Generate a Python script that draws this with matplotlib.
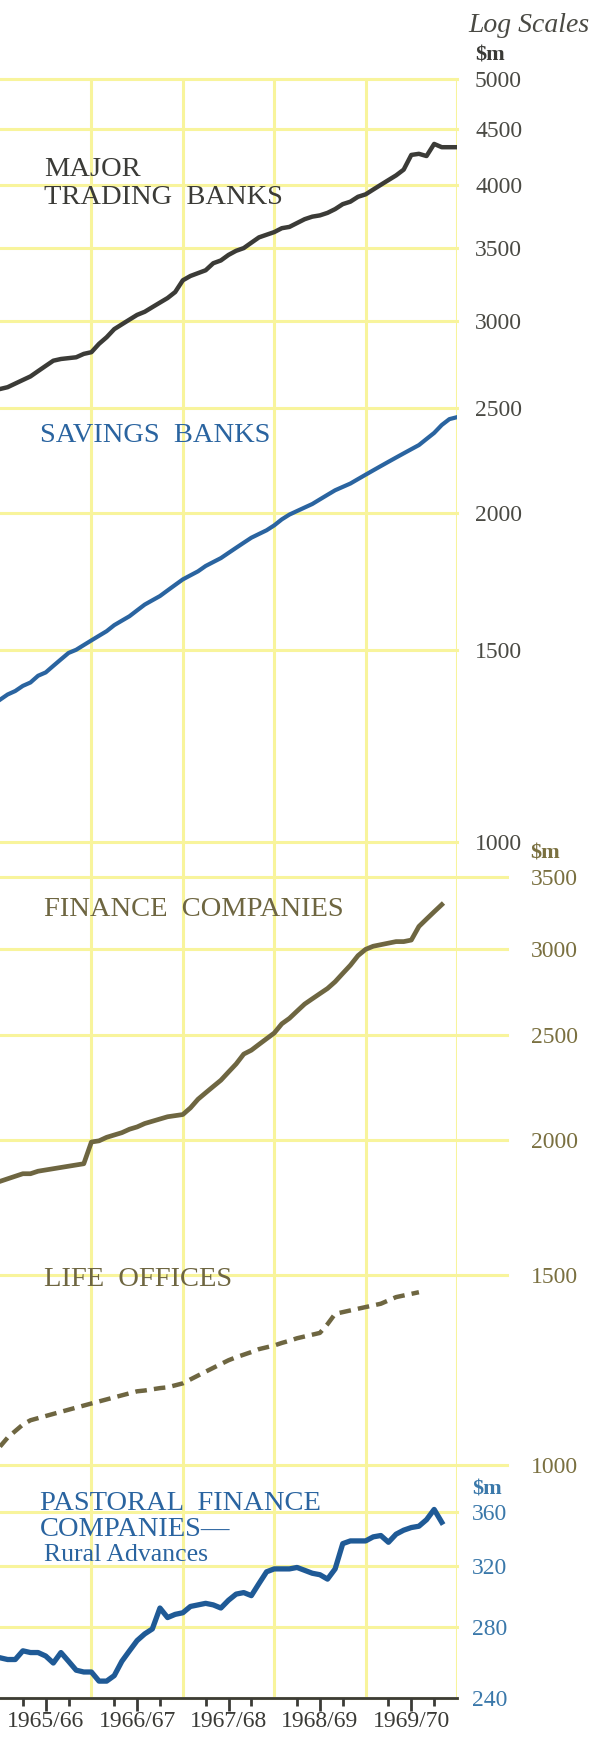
import matplotlib
matplotlib.use('Agg')
import matplotlib.pyplot as plt
import numpy as np

# monthly figures, July 1965 = month 0
trading = [2600, 2610, 2630, 2650, 2670, 2700, 2730, 2760, 2770, 2775,
           2780, 2800, 2810, 2860, 2900, 2950, 2980, 3010, 3040, 3060,
           3090, 3120, 3150, 3190, 3270, 3300, 3320, 3340, 3390, 3410,
           3450, 3480, 3500, 3540, 3580, 3600, 3620, 3650, 3660, 3690,
           3720, 3740, 3750, 3770, 3800, 3840, 3860, 3900, 3920, 3960,
           4000, 4040, 4080, 4130, 4260, 4270, 4250, 4360, 4330, 4330,
           4330]
savings = [1350, 1365, 1375, 1390, 1400, 1420, 1430, 1450, 1470, 1490,
           1500, 1515, 1530, 1545, 1560, 1580, 1595, 1610, 1630, 1650,
           1665, 1680, 1700, 1720, 1740, 1755, 1770, 1790, 1805, 1820,
           1840, 1860, 1880, 1900, 1915, 1930, 1950, 1975, 1995, 2010,
           2025, 2040, 2060, 2080, 2100, 2115, 2130, 2150, 2170, 2190,
           2210, 2230, 2250, 2270, 2290, 2310, 2340, 2370, 2410, 2440,
           2450]
finance = [1830, 1840, 1850, 1860, 1860, 1870, 1875, 1880, 1885, 1890,
           1895, 1900, 1990, 1995, 2010, 2020, 2030, 2045, 2055, 2070,
           2080, 2090, 2100, 2105, 2110, 2140, 2180, 2210, 2240, 2270,
           2310, 2350, 2400, 2420, 2450, 2480, 2510, 2560, 2590, 2630,
           2670, 2700, 2730, 2760, 2800, 2850, 2900, 2960, 3000, 3020,
           3030, 3040, 3050, 3050, 3060, 3150, 3200, 3250, 3300]
life = [1040, 1060, 1075, 1090, 1100, 1105, 1110, 1115, 1120, 1125,
        1130, 1135, 1140, 1145, 1150, 1155, 1160, 1165, 1170, 1172,
        1175, 1178, 1180, 1185, 1190, 1200, 1210, 1220, 1230, 1240,
        1250, 1258, 1265, 1272, 1280, 1285, 1290, 1297, 1303, 1310,
        1315, 1320, 1325, 1350, 1380, 1385, 1390, 1395, 1400, 1405,
        1410, 1420, 1430, 1435, 1440, 1445]
pastoral = [262, 261, 261, 266, 265, 265, 263, 259, 265, 260,
            255, 254, 254, 249, 249, 252, 260, 266, 272, 276,
            279, 292, 286, 288, 289, 293, 294, 295, 294, 292,
            297, 301, 302, 300, 308, 316, 318, 318, 318, 319,
            317, 315, 314, 311, 318, 336, 338, 338, 338, 341,
            342, 337, 343, 346, 348, 349, 354, 362, 352]

years = ['1965/66', '1966/67', '1967/68', '1968/69', '1969/70']
ticks1 = [1000, 1500, 2000, 2500, 3000, 3500, 4000, 4500, 5000]
ticks2 = [1000, 1500, 2000, 2500, 3000, 3500]
ticks3 = [240, 280, 320, 360]

W, H = 600, 1742
GRID = '#f8f49c'
DARK = '#3b3b37'
BLUE = '#2a64a0'
OLIVE = '#6e6641'

plt.rcParams['font.family'] = ['Liberation Serif', 'DejaVu Serif']

fig = plt.figure(figsize=(W / 100, H / 100), dpi=100)


def px_axes(x0, y0, x1, y1):
    ax = fig.add_axes([x0 / W, 1 - y1 / H, (x1 - x0) / W, (y1 - y0) / H])
    ax.patch.set_alpha(0)
    for s in ax.spines.values():
        s.set_visible(False)
    ax.set_xlim(0, 60)
    return ax


# background with the vertical year lines
bg = px_axes(0, 79, 457, 1698)
bg.set_ylim(0, 1)
for m in [12, 24, 36, 48, 60]:
    bg.axvline(m, color=GRID, lw=2.2, zorder=0)
bg.set_xticks([])
bg.set_yticks([])


def panel(y0, y1, lo, hi, ticks, color, pad, extend=1.0):
    ax = px_axes(0, y0, 457, y1)
    ax.set_yscale('log')
    ax.set_ylim(lo, hi)
    for t in ticks:
        ax.axhline(t, xmax=extend, color=GRID, lw=2.2, zorder=0, clip_on=False)
    ax.yaxis.set_major_locator(matplotlib.ticker.FixedLocator(ticks))
    ax.yaxis.set_minor_locator(matplotlib.ticker.NullLocator())
    ax.set_yticklabels([str(t) for t in ticks])
    ax.yaxis.tick_right()
    ax.tick_params(axis='y', length=0, pad=pad, labelsize=17, labelcolor=color)
    ax.set_xticks([])
    return ax


ax1 = panel(79, 842, 1000, 5000, ticks1, '#4a4a44', 13)
ax2 = panel(877, 1465, 1000, 3500, ticks2, '#7a7040', 53, extend=507 / 457)
ax3 = panel(1480, 1698, 240, 386, ticks3, '#3a78aa', 11)

ax1.plot(np.arange(len(trading)), trading, color=DARK, lw=3.2, solid_joinstyle='round')
ax1.plot(np.arange(len(savings)), savings, color=BLUE, lw=3.0, solid_joinstyle='round')
ax2.plot(np.arange(len(finance)), finance, color=OLIVE, lw=3.4, solid_joinstyle='round')
ax2.plot(np.arange(len(life)), life, color=OLIVE, lw=3.2, dashes=(2.6, 1.6))
ax3.plot(np.arange(len(pastoral)), pastoral, color='#1f5a96', lw=3.8, solid_joinstyle='round')

# bottom axis with quarterly ticks
ax3.spines['bottom'].set_visible(True)
ax3.spines['bottom'].set_color(DARK)
ax3.spines['bottom'].set_linewidth(2)
ax3.set_xticks([6, 18, 30, 42, 54])
ax3.set_xticks([m for m in range(3, 60, 3) if m % 12 != 0 and m % 12 != 6], minor=True)
ax3.tick_params(axis='x', which='major', length=9, width=2, color=DARK, labelbottom=False)
ax3.tick_params(axis='x', which='minor', length=6, width=2, color=DARK)
for i, y in enumerate(years):
    ax3.text(i * 12 + 6, -0.06, y, transform=ax3.get_xaxis_transform(),
             ha='center', va='top', fontsize=17, color='#3a3a36')

# text labels, in pixels from top-left
def label(x, y, s, color, size=20.5, **kw):
    fig.text(x / W, 1 - y / H, s, color=color, fontsize=size, va='center', **kw)

label(468, 25, 'Log Scales', '#4a4a44', size=20, style='italic')
label(475, 55, '$m', '#3a3a36', size=16, weight='bold')
label(530, 853, '$m', '#7a7040', size=16, weight='bold')
label(472, 1489, '$m', '#3a78aa', size=16, weight='bold')

label(44, 170, 'MAJOR', DARK)
label(44, 197, 'TRADING  BANKS', DARK)
label(40, 436, 'SAVINGS  BANKS', BLUE)
label(44, 909, 'FINANCE  COMPANIES', OLIVE)
label(44, 1279, 'LIFE  OFFICES', OLIVE)
label(40, 1503, 'PASTORAL  FINANCE', '#2a64a0')
label(40, 1529, 'COMPANIES\u2014', '#2a64a0')
label(44, 1555, 'Rural Advances', '#2a64a0', size=18.5)

fig.savefig('out.png', dpi=100)
